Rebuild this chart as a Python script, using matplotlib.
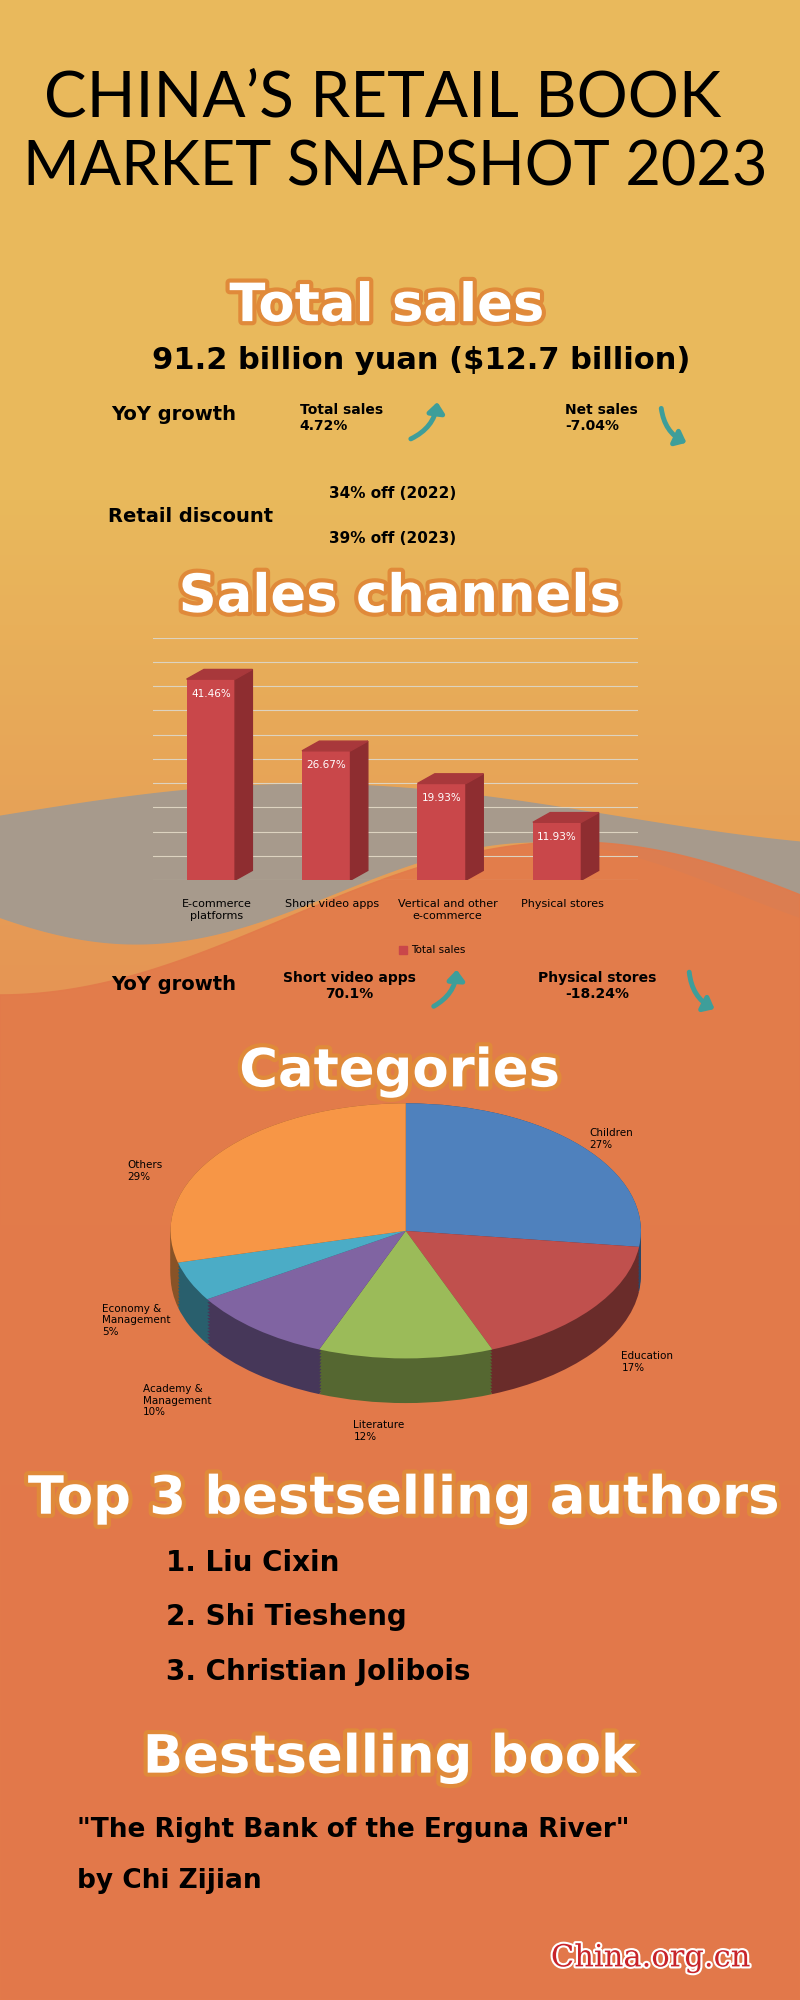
import numpy as np
import matplotlib
matplotlib.use("Agg")
import matplotlib.pyplot as plt
import matplotlib.patheffects as pe
from matplotlib.patches import Polygon
from matplotlib.colors import to_rgb

channels = ["E-commerce\nplatforms", "Short video apps", "Vertical and other\ne-commerce", "Physical stores"]
channel_share = [41.46, 26.67, 19.93, 11.93]
cat_labels = ["Children\n27%", "Education\n17%", "Literature\n12%", "Academy &\nManagement\n10%", "Economy &\nManagement\n5%", "Others\n29%"]
cat_share = [27, 17, 12, 10, 5, 29]
cat_colors = ["#4F81BD", "#C0504D", "#9BBB59", "#8064A2", "#4BACC6", "#F79646"]
authors = ["1. Liu Cixin", "2. Shi Tiesheng", "3. Christian Jolibois"]

W, H = 627.0, 1568.0
fig = plt.figure(figsize=(8, 20), dpi=100)
bg = fig.add_axes([0, 0, 1, 1]); bg.set_xlim(0, W); bg.set_ylim(H, 0); bg.axis("off")
yy = np.linspace(0, 1, 400)[:, None]
top = np.array(to_rgb("#E9B95C")); bot = np.array(to_rgb("#E2704C"))
t = np.clip((yy - 0.25) / 0.5, 0, 1)
img = (top * (1 - t[..., None]) + bot * t[..., None]) * np.ones((1, 10, 1))
bg.imshow(img, extent=[0, W, H, 0], aspect="auto", zorder=0)
xs = np.linspace(0, W, 200)
up = 640 - 25 * np.sin(xs / W * np.pi * 1.3)
lo = 700 + 40 * np.sin(xs / W * np.pi * 2 + 0.5)
bg.fill_between(xs, up, lo, color="#A79A8C", zorder=1)
wave = 720 + 60 * np.cos(xs / W * np.pi * 1.4)
bg.fill_between(xs, wave, H, color="#E27A4A", alpha=0.9, zorder=1)

def T(x, y, s, size, ha="left", color="black", weight="bold", family="DejaVu Sans", fx=None, **kw):
    bg.text(x, y, s, fontsize=size, ha=ha, va="center", color=color, weight=weight,
            family=family, path_effects=fx, zorder=5, **kw)

hfx = [pe.withStroke(linewidth=6, foreground="#E08A3A")]
T(300, 77, "CHINA’S RETAIL BOOK", 46, ha="center", weight="normal", family="Lato")
T(310, 132, "MARKET SNAPSHOT 2023", 44, ha="center", weight="normal", family="Lato")
T(303, 240, "Total sales", 38, ha="center", color="white", fx=hfx)
T(330, 283, "91.2 billion yuan ($12.7 billion)", 22, ha="center")
T(87, 325, "YoY growth", 14)
T(235, 328, "Total sales\n4.72%", 10)
T(443, 328, "Net sales\n-7.04%", 10)
T(85, 405, "Retail discount", 14)
T(258, 387, "34% off (2022)", 11)
T(258, 422, "39% off (2023)", 11)
T(313, 468, "Sales channels", 38, ha="center", color="white", fx=hfx)
T(87, 772, "YoY growth", 14)
T(222, 773, "Short video apps\n70.1%", 10, ha="left", multialignment="center")
T(422, 773, "Physical stores\n-18.24%", 10, multialignment="center")
T(313, 840, "Categories", 38, ha="center", color="white", fx=hfx)
T(316, 1175, "Top 3 bestselling authors", 38, ha="center", color="white", fx=hfx)
for i, a in enumerate(authors):
    T(130, 1225 + 43 * i, a, 20)
T(305, 1378, "Bestselling book", 38, ha="center", color="white", fx=hfx)
T(60, 1435, "\"The Right Bank of the Erguna River\"", 19)
T(60, 1475, "by Chi Zijian", 19)
T(510, 1535, "China.org.cn", 22, ha="center", color="#C8242A", weight="normal", family="DejaVu Serif",
  fx=[pe.withStroke(linewidth=3, foreground="white")])
for (x0, y0, x1, y1, rad) in [(320, 345, 343, 313, 0.3), (518, 318, 540, 348, 0.3),
                              (338, 790, 358, 758, 0.3), (540, 760, 562, 792, 0.3)]:
    bg.annotate("", xy=(x1, y1), xytext=(x0, y0), zorder=5,
                arrowprops=dict(arrowstyle="-|>,head_width=0.5,head_length=0.6", lw=3.5, color="#3E9E9A",
                                connectionstyle=f"arc3,rad={rad}"))

ax = fig.add_axes([120 / W, 1 - 690 / H, 380 / W, 190 / H])
ax.set_xlim(-0.5, 3.7); ax.set_ylim(0, 50)
for v in range(0, 55, 5):
    ax.plot([-0.5, 3.7], [v, v], color="#DDD3C0", lw=0.8, zorder=0)
ax.axis("off")
xpos = np.arange(len(channels))
bw = 0.42; dx = 0.15; dy = 2.0
ax.bar(xpos, channel_share, width=bw, color="#C9474A", zorder=3)
for i, (x, v) in enumerate(zip(xpos, channel_share)):
    l, r = x - bw / 2, x + bw / 2
    ax.add_patch(Polygon([(r, 0), (r + dx, dy), (r + dx, v + dy), (r, v)], color="#8E2D30", zorder=3))
    ax.add_patch(Polygon([(l, v), (l + dx, v + dy), (r + dx, v + dy), (r, v)], color="#A8383B", zorder=3))
    ax.text(x, v - 3, f"{v:.2f}%", ha="center", va="center", color="white", fontsize=7.5, zorder=4)
    ax.text(x + 0.05, -4, channels[i], ha="center", va="top", fontsize=8, clip_on=False)
bg.add_patch(Polygon([(313, 742), (319, 742), (319, 748), (313, 748)], color="#C9474A", zorder=5))
T(322, 745, "Total sales", 7.5, weight="normal")

pax = fig.add_axes([130 / W, 1 - 1110 / H, 376 / W, 250 / H])
pax.axis("off")
def darker(c, f):
    return tuple(np.array(to_rgb(c)) * f)
depth = 0.35
for k in np.linspace(depth, 0, 15):
    pax.pie(cat_share, colors=[darker(c, 0.55) for c in cat_colors], startangle=90, counterclock=False,
            center=(0, -k), radius=1)
pax.pie(cat_share, colors=cat_colors, startangle=90, counterclock=False, center=(0, 0), radius=1,
        wedgeprops=dict(edgecolor="none"))
pax.set_aspect("auto")
pax.set_xlim(-1.02, 1.02); pax.set_ylim(-1.45, 1.05)
lab_pos = [(462, 893), (487, 1068), (277, 1122), (112, 1098), (80, 1035), (100, 918)]
for (lx, ly), s in zip(lab_pos, cat_labels):
    T(lx, ly, s, 7.5, weight="normal", multialignment="left")

fig.savefig("out.png", dpi=100)
